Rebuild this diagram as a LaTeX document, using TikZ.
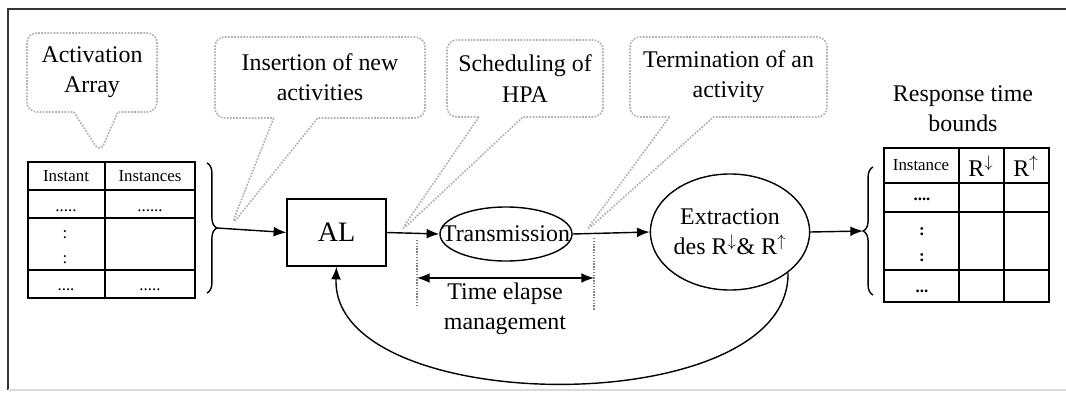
\documentclass[tikz,border=0pt]{standalone}
\usepackage{fontspec}
\setmainfont{Liberation Serif}
\usetikzlibrary{shapes.geometric}
\usetikzlibrary{shapes.callouts}
\usetikzlibrary{decorations.pathreplacing}
\usetikzlibrary{arrows.meta}
\tikzstyle{bubble} = [rectangle callout, draw=gray!60, densely dotted, line width=1.2pt, rounded corners=7pt, callout pointer width=1.1cm, align=center]
\tikzstyle{flow} = [line width=1pt, -{Latex[length=9pt,width=7pt]}]
\tikzstyle{guide} = [gray, densely dotted, line width=1pt]
\tikzstyle{tabline} = [line width=1pt]
\tikzstyle{small} = [font=\fontsize{12}{14}\selectfont]
\tikzstyle{brc} = [line width=1pt, decorate, decoration={brace, amplitude=7pt}]

\begin{document}
\begin{tikzpicture}[
  x=0.025cm, y=-0.025cm,
  every node/.style={font=\fontsize{17}{21.5}\selectfont, inner sep=0pt},
]
\useasboundingbox (0,0) rectangle (1066,394);
% frame
\draw[line width=1.2pt, black!80] (8,390) -- (8,9) -- (1066,9);
\draw[line width=1pt, black!15] (8,390) -- (1066,390);

% main chain
\node[draw, line width=1pt, minimum width=2.475cm, minimum height=1.675cm,
  font=\fontsize{20}{24}\selectfont] (al) at (336.5,232.5) {AL};
\node[draw, ellipse, line width=1pt, minimum width=3.3cm, minimum height=1.35cm]
  (trans) at (506,234) {\makebox[0pt]{Transmission}};
\node[draw, ellipse, line width=1pt, minimum width=3.9cm, minimum height=2.9cm, align=center]
  (extr) at (730,232) {Extraction\\des R$^{\downarrow}$\& R$^{\uparrow}$};

% activation array
\draw[tabline] (28,162) rectangle (195,298);
\draw[tabline] (105,162) -- (105,298);
\foreach \y in {190,218,270}
  \draw[tabline] (28,\y) -- (195,\y);
\node[small] (ainst) at (66,176) {Instant};
\node[small] (ainsts) at (150,176) {Instances};
\node[small] (adots1) at (66,211) {.....};
\node[small] (adots2) at (150,211) {......};
\node[small] (acol1) at (65,235) {:};
\node[small] (acol2) at (65,260) {:};
\node[small] (adots3) at (66,290) {....};
\node[small] (adots4) at (150,290) {.....};
\draw[brc] (207,163) -- (207,293);
\coordinate (lbrace) at (217,228);

% response time bounds
\node[align=center] (rtb) at (963,109) {Response time\\bounds};
\draw[tabline] (884,148) rectangle (1049,302);
\foreach \x in {959,1004}
  \draw[tabline] (\x,148) -- (\x,302);
\foreach \y in {183,212,270}
  \draw[tabline] (884,\y) -- (1049,\y);
\node[small] (rinst) at (921,165) {Instance};
\node (rlow) at (981,166) {R$^{\downarrow}$};
\node (rup) at (1026,166) {R$^{\uparrow}$};
\node[small] (rdots1) at (922,199) {\textbf{....}};
\node[small] (rcol1) at (922,232) {\textbf{:}};
\node[small] (rcol2) at (922,258) {\textbf{:}};
\node[small] (rdots2) at (922,291) {\textbf{...}};
\draw[brc] (873,295) -- (873,167);
\coordinate (rbrace) at (863,231);

% arrows
\draw[flow] (lbrace) -- (al.west);
\draw[flow] (al.east) -- (trans.west);
\draw[flow] (trans.east) -- (extr.west);
\draw[flow] (extr.east) -- (rbrace);
\draw[flow] (extr.-35) .. controls +(3,150) and +(-6,152) .. (al.south);

% time elapse
\coordinate (te1) at (417,278);
\coordinate (te2) at (594,278);
\draw[guide] (417,240) -- (417,305);
\draw[guide] (594,238) -- (594,310);
\draw[line width=1pt, {Latex[length=9pt,width=7pt]}-{Latex[length=9pt,width=7pt]}] (te1) -- (te2);
\node[align=center] (telapse) at (505,309) {Time elapse\\management};

% callouts
\coordinate (tipA) at (100,153);
\coordinate (tipB) at (231,226);
\coordinate (tipC) at (400,232);
\coordinate (tipD) at (585,232);
\node[bubble, minimum width=3.25cm, minimum height=1.975cm, callout absolute pointer={(tipA)}]
  (cA) at (92,72.5) {Activation\\Array};
\node[bubble, minimum width=5.25cm, minimum height=2.025cm, callout absolute pointer={(tipB)}]
  (cB) at (320,77.5) {Insertion of new\\activities};
\node[bubble, minimum width=3.9cm, minimum height=1.925cm, callout absolute pointer={(tipC)}]
  (cC) at (525,78.5) {Scheduling of\\HPA};
\node[bubble, minimum width=4.925cm, minimum height=2cm, callout absolute pointer={(tipD)}]
  (cD) at (728.5,77) {Termination of an\\activity};

\end{tikzpicture}
\end{document}
